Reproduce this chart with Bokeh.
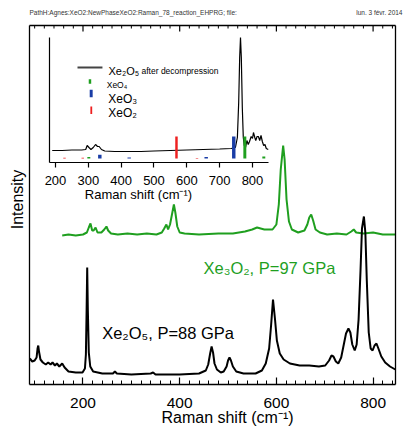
from bokeh.plotting import figure
from bokeh.models import (Range1d, LinearAxis, FixedTicker,
                          ColumnDataSource, Label)
from bokeh.embed import file_html
from bokeh.resources import INLINE

# ---------------- data ----------------
# Xe2O5 at 88 GPa (Raman shift in cm-1, intensity in arbitrary units)
xe2o5_shift = [90, 95, 100, 104, 106, 107.5, 109, 112, 117, 123, 128, 133, 137, 142, 146,
               151, 157, 162, 170, 185, 199, 204, 206, 207.5, 208.7, 210, 212, 215, 221,
               240, 262, 266, 270, 300, 340, 345, 350, 400, 440, 454, 459, 463, 466, 469,
               472, 477, 485, 491, 497, 500, 503, 506, 510, 517, 532, 557, 570, 578, 585,
               589, 593, 597, 601, 607, 615, 628, 648, 668, 688, 701, 709, 714, 718, 723,
               728, 734, 739, 744, 749, 753, 757, 762, 766, 770, 774, 777, 781, 784, 787,
               791, 795, 799, 803, 807, 811, 817, 825, 835, 846]
xe2o5_int = [26, 23, 24, 27, 36, 39, 33, 25, 22, 20, 22, 20, 22, 19, 21,
             18, 21, 17, 13, 12, 12, 16, 30, 75, 117, 75, 32, 18, 13,
             11, 11, 13, 11, 10, 11, 12, 10, 10, 11, 14, 20, 31, 38, 32,
             21, 15, 12, 13, 18, 24, 27, 24, 18, 13, 11, 11, 14, 21, 36,
             59, 85, 66, 44, 31, 25, 21, 19, 19, 18, 19, 24, 29, 28, 23,
             21, 27, 39, 51, 56, 52, 40, 34, 40, 65, 114, 156, 168, 152, 104,
             52, 36, 34, 39, 41, 36, 28, 22, 18, 15]

# Xe3O2 at 97 GPa (offset trace)
xe3o2_shift = [157, 170, 185, 200, 208, 212, 215.5, 219, 222, 226, 230, 238, 244, 248.5,
               252, 258, 272, 292, 312, 332, 352, 363, 368, 372.5, 376, 380, 384, 388,
               391, 395, 400, 410, 440, 480, 510, 535, 550, 560, 575, 592, 600, 605, 609,
               614, 617, 621, 626, 632, 645, 658, 664, 668, 672, 676, 681, 690, 705, 725,
               745, 755, 760, 765, 780, 800, 820, 846]
xe3o2_int = [149, 150, 149, 150, 152, 157, 161, 154, 154, 157, 152, 152, 155, 158,
             154, 151, 150, 151, 150, 151, 150, 152, 156, 160, 155, 160, 170, 180,
             172, 158, 152, 151, 150, 151, 151, 153, 155, 157, 155, 155, 160, 180, 215,
             239, 225, 185, 163, 155, 152, 154, 160, 167, 170, 164, 155, 152, 150, 151,
             150, 153, 155, 152, 151, 152, 150, 150]

# Xe2O5 after decompression (inset)
decomp_shift = [190, 220, 250, 280, 292, 296.5, 302, 308, 315, 322, 328, 333, 340, 350,
                380, 420, 460, 500, 550, 600, 650, 700, 735, 748, 754, 758, 761, 763.5,
                766, 769, 772, 775, 779, 783, 787, 791, 796, 800, 803, 807, 810, 814,
                818, 822, 826, 830, 834, 838, 842, 848]
decomp_int = [12, 12, 12.5, 12.5, 13, 17, 15, 13, 15, 18, 16, 16, 13, 11.5,
              11, 11, 11, 11.5, 12, 12.5, 13, 13.5, 14, 15, 25, 60, 105, 125,
              105, 55, 25, 17, 15, 22, 18, 21, 26, 24, 30, 25, 22, 26,
              26, 22, 27, 21, 17, 18, 14, 13]

# reference Raman lines of the xenon oxides (position, relative height)
xeo4_lines = [301.5, 776.7, 834.5]
xeo4_heights = [1.5, 22, 2]
xeo3_lines = [335, 424.5, 659, 743]
xeo3_heights = [3.7, 1, 1.5, 22]
xeo2_lines = [227.4, 283, 568.5, 631]
xeo2_heights = [0.7, 0.7, 22, 0.4]

main_ticks = [200, 400, 600, 800]
inset_ticks = [200, 300, 400, 500, 600, 700, 800]

# ---------------- styling ----------------
FONT = "Liberation Sans"
GREEN = "#1f9f1f"
BLUE = "#1a3da6"
RED = "#ee2020"
LINE_BASE = 4  # baseline of the reference-line bars in the inset

# main plot extent (shift, intensity) inside the page
X0, X1 = 89.35, 846.3
Y0, Y1 = 0, 359
# inset extent
IX0, IX1 = 183.2, 848.7
IY1 = 125

# minor ticks every 20 cm-1 between the labelled ones
minor_ticks = [v for v in range(100, 841, 20) if v not in main_ticks]

# the frame covers the whole page; axes are pinned at fixed locations
p = figure(width=403, height=428,
           x_range=Range1d(29.37, 862.9), y_range=Range1d(-44, 384),
           x_axis_location=None, y_axis_location=None,
           output_backend="svg", toolbar_location=None,
           min_border=0, min_border_left=0, min_border_right=0,
           min_border_top=0, min_border_bottom=0)
p.grid.visible = False
p.outline_line_color = None
p.background_fill_color = "white"
p.border_fill_color = "white"

p.extra_x_ranges = {"ix": Range1d(32.47, 1260.0)}
p.extra_y_ranges = {"iy": Range1d(-266, 162)}

NO_TICKS = dict(ticks=[], minor_ticks=[])

def frame_axis(side, loc, bounds, **kw):
    opts = dict(fixed_location=loc, bounds=bounds,
                major_tick_in=0, major_tick_out=0, minor_tick_in=0, minor_tick_out=0,
                axis_line_width=1.3, major_tick_line_width=1.2, minor_tick_line_width=1,
                major_label_text_font=FONT, major_label_text_color="black")
    opts.update(kw)
    axis = LinearAxis(**opts)
    p.add_layout(axis, side)
    return axis

# bottom axis with labels, ticks pointing inwards (up)
frame_axis("below", Y0, (X0, X1),
           ticker=FixedTicker(ticks=main_ticks, minor_ticks=minor_ticks),
           major_tick_in=7, minor_tick_in=4,
           major_label_text_font_size="15.5px", major_label_standoff=13)
# top, left and right frame lines
frame_axis("below", Y1, (X0, X1), ticker=FixedTicker(**NO_TICKS))
frame_axis("left", X0, (Y0, Y1), ticker=FixedTicker(**NO_TICKS))
frame_axis("right", X1, (Y0, Y1), ticker=FixedTicker(**NO_TICKS))

# tick marks hanging from the top frame line
p.segment(x0=main_ticks, x1=main_ticks, y0=Y1, y1=Y1 - 6,
          line_color="black", line_width=1.2)
p.segment(x0=minor_ticks, x1=minor_ticks, y0=Y1, y1=Y1 - 3,
          line_color="black", line_width=1)

# main spectra
p.line(xe3o2_shift, xe3o2_int, line_color=GREEN, line_width=2)
p.line(xe2o5_shift, xe2o5_int, line_color="black", line_width=2)

# ---------------- inset ----------------
frame_axis("below", 0, (IX0, IX1), x_range_name="ix", y_range_name="iy",
           ticker=FixedTicker(ticks=inset_ticks, minor_ticks=[]),
           major_tick_out=5, major_label_text_font_size="13px",
           major_label_standoff=8, axis_line_width=1.2)
frame_axis("left", IX0, (0, IY1), x_range_name="ix", y_range_name="iy",
           ticker=FixedTicker(**NO_TICKS), axis_line_width=1.2)

p.line(decomp_shift, decomp_int, line_color="black", line_width=1.2,
       x_range_name="ix", y_range_name="iy")

for pos, hts, col, w in ((xeo2_lines, xeo2_heights, RED, 7.5),
                         (xeo3_lines, xeo3_heights, BLUE, 10.5),
                         (xeo4_lines, xeo4_heights, GREEN, 9)):
    src = ColumnDataSource(dict(x=pos, top=[LINE_BASE + h for h in hts]))
    p.vbar(x="x", top="top", bottom=LINE_BASE, width=w, source=src,
           fill_color=col, line_color=None, x_range_name="ix", y_range_name="iy")

# inset legend keys
p.line([267, 343], [95, 95], line_color="#444444", line_width=2,
       x_range_name="ix", y_range_name="iy")
p.rect(x=[305], y=[81], width=7.5, height=4.5, fill_color=GREEN, line_color=None,
       x_range_name="ix", y_range_name="iy")
p.rect(x=[308.7], y=[69], width=9, height=7.5, fill_color=BLUE, line_color=None,
       x_range_name="ix", y_range_name="iy")
p.rect(x=[309], y=[52.3], width=5.5, height=7.5, fill_color=RED, line_color=None,
       x_range_name="ix", y_range_name="iy")

def add_label(x, y, text, size, color="black", rng=None, **kw):
    extra = {}
    if rng:
        extra = dict(x_range_name="ix", y_range_name="iy")
    p.add_layout(Label(x=x, y=y, text=text, text_font=FONT, text_font_size=size,
                       text_color=color, text_baseline=kw.pop("baseline", "alphabetic"),
                       text_align=kw.pop("align", "left"), **extra, **kw))

# inset legend texts and axis title
add_label(361.4, 92, "Xe\u2082O\u2085", "11px", rng=True)
add_label(462, 92, "after decompression", "8.5px", rng=True)
add_label(356, 78, "XeO\u2084", "8.5px", rng=True)
add_label(361, 63.3, "XeO\u2083", "12px", rng=True)
add_label(361, 49.3, "XeO\u2082", "12px", rng=True)
add_label(452.8, -32, "Raman shift (cm\u207b\u00b9)", "13px", rng=True, align="center")

# spectrum annotations
add_label(449.2, 116.3, "Xe\u2083O\u2082, P=97 GPa", "16.5px", color=GREEN)
add_label(239.7, 51.3, "Xe\u2082O\u2085, P=88 GPa", "16.5px")

# axis titles and header line
add_label(498.9, -33, "Raman shift (cm\u207b\u00b9)", "16px", align="center")
add_label(64.5, 185, "Intensity", "16px", align="center", baseline="middle",
          angle=1.5708)
add_label(89.35, 372.3, "PathH:Agnes:XeO2:NewPhaseXeO2:Raman_78_reaction_EHPRG; file:",
          "6.5px", color="#333333", baseline="middle")
add_label(860.8, 372.3, "lun. 3 f\u00e9vr. 2014", "6.5px", color="#333333",
          baseline="middle", align="right")

open("out.html", "w").write(file_html(p, INLINE))
